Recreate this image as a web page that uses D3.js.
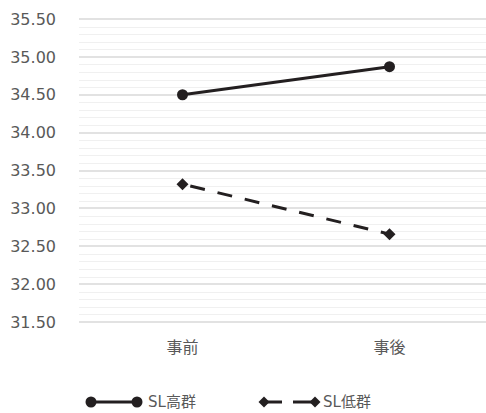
<!DOCTYPE html>
<html><head><meta charset="utf-8">
<script src="https://cdn.jsdelivr.net/npm/d3@7"></script>
<style>body{margin:0;background:#fff}svg{display:block}</style>
</head><body>
<script>
const categories = ["事前", "事後"];
const seriesNames = ["SL高群", "SL低群"];
const highValues = [34.50, 34.87];
const lowValues = [33.32, 32.66];
const yTicks = [31.5, 32.0, 32.5, 33.0, 33.5, 34.0, 34.5, 35.0, 35.5];

const W = 486, H = 413;
const svg = d3.select("body").append("svg").attr("width", W).attr("height", H);
const font = "'DejaVu Sans','Noto Sans CJK JP',sans-serif";
const x = d3.scaleBand().domain(categories).range([79, 493]);
const y = d3.scaleLinear().domain([31.5, 35.5]).range([322, 19]);

// minor grid
const minor = d3.range(31.5, 35.5001, 0.1).filter(v => Math.abs(Math.round(v*2)/2 - v) > 1e-6);
svg.append("g").selectAll("line").data(minor).join("line")
  .attr("x1", 79).attr("x2", 493)
  .attr("y1", d => Math.round(y(d)) + 0.5).attr("y2", d => Math.round(y(d)) + 0.5)
  .attr("stroke", "#f0f0f0").attr("stroke-width", 1);
// major grid
svg.append("g").selectAll("line").data(yTicks).join("line")
  .attr("x1", 79).attr("x2", 493)
  .attr("y1", d => Math.round(y(d))).attr("y2", d => Math.round(y(d)))
  .attr("stroke", "#d9d9d9").attr("stroke-width", 1.5);

// y labels
const yAxis = d3.axisLeft(y).tickValues(yTicks).tickFormat(d3.format(".2f")).tickSize(0).tickPadding(0);
const ga = svg.append("g").attr("transform", "translate(56,0)").call(yAxis);
ga.select(".domain").remove();
ga.selectAll("text").attr("font-family", font).attr("font-size", 16).attr("fill", "#595959");

// x labels
const xAxis = d3.axisBottom(x).tickSize(0).tickPadding(0);
const gx = svg.append("g").attr("transform", "translate(0,342)").call(xAxis);
gx.select(".domain").remove();
gx.selectAll("text").attr("font-family", font).attr("font-size", 16).attr("fill", "#595959");

const cx = d => x(d) + x.bandwidth() / 2;
const line = d3.line().x(d => cx(d[0])).y(d => y(d[1]));
const col = "#231f20";

// high series
const hi = categories.map((c, i) => [c, highValues[i]]);
svg.append("path").attr("d", line(hi)).attr("fill", "none").attr("stroke", col).attr("stroke-width", 3);
svg.append("g").selectAll("circle").data(hi).join("circle")
  .attr("cx", d => cx(d[0])).attr("cy", d => y(d[1])).attr("r", 5.5).attr("fill", col);

// low series
const lo = categories.map((c, i) => [c, lowValues[i]]);
svg.append("path").attr("d", line(lo)).attr("fill", "none").attr("stroke", col)
  .attr("stroke-width", 3).attr("stroke-dasharray", "15,13").attr("stroke-dashoffset", -8);
const diamond = s => `M0,${-s}L${s},0L0,${s}L${-s},0Z`;
svg.append("g").selectAll("path").data(lo).join("path")
  .attr("transform", d => `translate(${cx(d[0])},${y(d[1])})`)
  .attr("d", diamond(6)).attr("fill", col);

// legend
const ly = 402;
const lg = svg.append("g");
lg.append("line").attr("x1", 91).attr("x2", 137).attr("y1", ly).attr("y2", ly).attr("stroke", col).attr("stroke-width", 3);
lg.selectAll("circle").data([91, 137]).join("circle").attr("cx", d => d).attr("cy", ly).attr("r", 5.5).attr("fill", col);
lg.append("text").attr("x", 148).attr("y", ly).attr("dy", "0.35em").text(seriesNames[0])
  .attr("font-family", font).attr("font-size", 15).attr("fill", "#595959");
lg.append("line").attr("x1", 264).attr("x2", 282).attr("y1", ly).attr("y2", ly).attr("stroke", col).attr("stroke-width", 3);
lg.append("line").attr("x1", 293).attr("x2", 315).attr("y1", ly).attr("y2", ly).attr("stroke", col).attr("stroke-width", 3);
lg.selectAll("path").data([264, 315]).join("path")
  .attr("transform", d => `translate(${d},${ly})`).attr("d", diamond(5.5)).attr("fill", col);
lg.append("text").attr("x", 323).attr("y", ly).attr("dy", "0.35em").text(seriesNames[1])
  .attr("font-family", font).attr("font-size", 15).attr("fill", "#595959");
</script>
</body></html>
